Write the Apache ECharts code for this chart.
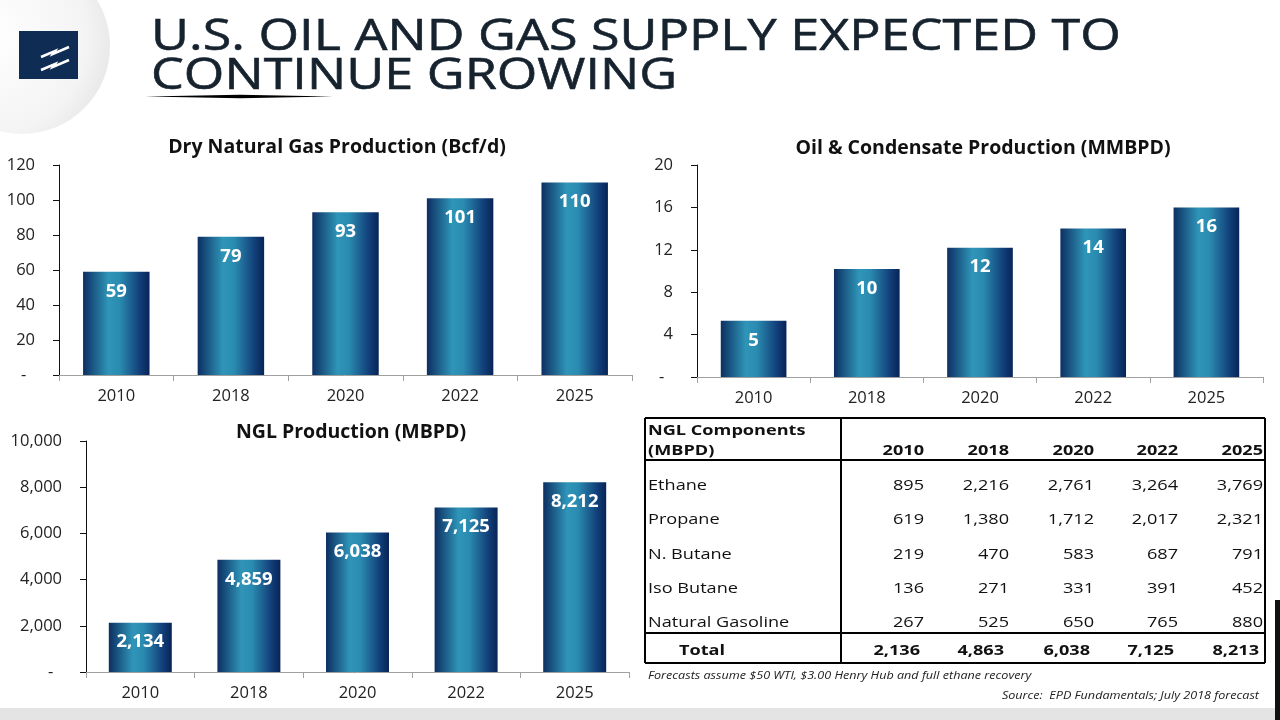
<!DOCTYPE html>
<html>
<head>
<meta charset="utf-8">
<script src="https://cdn.jsdelivr.net/npm/echarts@6/dist/echarts.min.js"></script>
<style>
html,body{margin:0;padding:0;background:#fff;}
#chart{width:1280px;height:720px;}
</style>
</head>
<body>
<div id="chart"></div>
<script>
// ---------- data ----------
const years = ['2010', '2018', '2020', '2022', '2025'];
const gasValues = [59, 79, 93, 101, 110];
const oilValues = [5.3, 10.2, 12.2, 14.0, 16.0];
const nglValues = [2134, 4859, 6038, 7125, 8212];

const gasTitle = 'Dry Natural Gas Production (Bcf/d)';
const oilTitle = 'Oil & Condensate Production (MMBPD)';
const nglTitle = 'NGL Production (MBPD)';
const mainTitle1 = 'U.S. OIL AND GAS SUPPLY EXPECTED TO';
const mainTitle2 = 'CONTINUE GROWING';

const tableHeader1 = 'NGL Components';
const tableHeader2 = '(MBPD)';
const tableYears = ['2010', '2018', '2020', '2022', '2025'];
const componentNames = ['Ethane', 'Propane', 'N. Butane', 'Iso Butane', 'Natural Gasoline'];
const ethane = [895, 2216, 2761, 3264, 3769];
const propane = [619, 1380, 1712, 2017, 2321];
const nButane = [219, 470, 583, 687, 791];
const isoButane = [136, 271, 331, 391, 452];
const naturalGasoline = [267, 525, 650, 765, 880];
const totalLabel = 'Total';
const totals = [2136, 4863, 6038, 7125, 8213];
const footnote = 'Forecasts assume $50 WTI, $3.00 Henry Hub and full ethane recovery';
const sourceNote = 'Source:  EPD Fundamentals; July 2018 forecast';

// ---------- styles ----------
const FONT = '"Open Sans", "Liberation Sans", sans-serif';
const fmt = v => Number(v).toLocaleString('en-US');
const barGradient = new echarts.graphic.LinearGradient(0, 0, 1, 0, [
  { offset: 0, color: '#0d2f62' },
  { offset: 0.38, color: '#2f95b8' },
  { offset: 0.55, color: '#2a8bb0' },
  { offset: 0.85, color: '#12407a' },
  { offset: 1, color: '#072457' }
]);

function xAxisCfg(gridIndex) {
  return {
    type: 'category', gridIndex, data: years,
    axisLine: { show: true, lineStyle: { color: '#a0a0a0', width: 1 } },
    axisTick: { show: true, alignWithLabel: false, length: 6, lineStyle: { color: '#a0a0a0' } },
    axisLabel: { fontFamily: FONT, fontSize: 16.5, color: '#222', margin: 13 }
  };
}
function yAxisCfg(gridIndex, max, interval, useComma) {
  return {
    type: 'value', gridIndex, min: 0, max, interval,
    axisLine: { show: true, lineStyle: { color: '#111', width: 1 } },
    axisTick: { show: true, length: 6, lineStyle: { color: '#111' } },
    splitLine: { show: false },
    axisLabel: {
      fontFamily: FONT, fontSize: 16.5, color: '#222', margin: 24,
      formatter: v => v === 0 ? '-  ' : (useComma ? fmt(v) : String(v))
    }
  };
}
function barSeries(idx, data, fmtLabel) {
  return {
    type: 'bar', xAxisIndex: idx, yAxisIndex: idx, data,
    barWidth: '58%',
    itemStyle: { color: barGradient },
    label: {
      show: true, position: 'insideTop', distance: 10,
      fontFamily: FONT, fontSize: 18.5, fontWeight: 'bold', color: '#fff',
      formatter: p => fmtLabel(p.value)
    }
  };
}

// ---------- graphic (slide decoration, title, table) ----------
const graphics = [];
// logo backdrop
graphics.push({
  type: 'circle', shape: { cx: 22, cy: 46, r: 88 }, z: -10,
  style: { fill: new echarts.graphic.RadialGradient(0.3, 0.45, 0.75, [
    { offset: 0, color: '#ffffff' }, { offset: 0.75, color: '#f4f4f4' }, { offset: 1, color: '#e6e6e6' }
  ]) }
});
graphics.push({ type: 'rect', shape: { x: 19, y: 31, width: 59, height: 48 }, style: { fill: '#0e2c54' } });
graphics.push({ type: 'polyline', shape: { points: [[41, 57], [55, 51], [53, 54], [69, 47]] }, style: { stroke: '#fff', lineWidth: 2.5, fill: null } });
graphics.push({ type: 'polyline', shape: { points: [[41, 70], [55, 64], [53, 67], [69, 60]] }, style: { stroke: '#fff', lineWidth: 2.5, fill: null } });
// main title
const titleTextStyle = { fontFamily: FONT, fontSize: 44, fill: '#16232f', stroke: '#16232f', lineWidth: 0.6, align: 'left', verticalAlign: 'middle' };
graphics.push({ type: 'text', x: 151, y: 37, scaleX: 1.185, style: Object.assign({ text: mainTitle1 }, titleTextStyle) });
graphics.push({ type: 'text', x: 151, y: 76, scaleX: 1.185, style: Object.assign({ text: mainTitle2 }, titleTextStyle) });
graphics.push({ type: 'polygon', shape: { points: [[145, 96.5], [240, 94.8], [333, 96.5], [240, 98.2]] }, style: { fill: '#000' } });

// table
const T = { left: 645, right: 1265, top: 418, bottom: 663, headSep: 460, totSep: 633, vline: 841 };
const lineStyle = { stroke: '#000', lineWidth: 2 };
[[T.left, T.top, T.right, T.top], [T.left, T.headSep, T.right, T.headSep], [T.left, T.totSep, T.right, T.totSep],
 [T.left, T.bottom, T.right, T.bottom], [T.left, T.top, T.left, T.bottom], [T.right, T.top, T.right, T.bottom],
 [T.vline, T.top, T.vline, T.bottom]].forEach(l => {
  graphics.push({ type: 'line', shape: { x1: l[0], y1: l[1], x2: l[2], y2: l[3] }, style: lineStyle });
});
const SX = 1.25;
function tText(text, x, y, align, bold, size) {
  graphics.push({ type: 'text', x, y, scaleX: SX,
    style: { text, fontFamily: FONT, fontSize: size || 14.5, fontWeight: bold ? 'bold' : 'normal',
      fill: '#111', align, verticalAlign: 'middle' } });
}
const colRight = [924, 1009, 1094, 1178, 1263];
const colRightBold = [920, 1004, 1090, 1174, 1259];
const rowY = [486, 520, 555, 589, 623];
tText(tableHeader1, 648, 431, 'left', true);
tText(tableHeader2, 648, 451, 'left', true);
tableYears.forEach((y, i) => tText(y, colRight[i], 451, 'right', true));
const rows = [ethane, propane, nButane, isoButane, naturalGasoline];
componentNames.forEach((name, r) => {
  tText(name, 648, rowY[r], 'left', false);
  rows[r].forEach((v, i) => tText(fmt(v), colRight[i], rowY[r], 'right', false));
});
tText(totalLabel, 679, 651, 'left', true);
totals.forEach((v, i) => tText(fmt(v), colRightBold[i], 651, 'right', true));
graphics.push({ type: 'text', x: 648, y: 676, scaleX: 1.2,
  style: { text: footnote, fontFamily: FONT, fontSize: 10.5, fontStyle: 'italic', fill: '#222', align: 'left', verticalAlign: 'middle' } });
graphics.push({ type: 'text', x: 1259, y: 696, scaleX: 1.2,
  style: { text: sourceNote, fontFamily: FONT, fontSize: 10.5, fontStyle: 'italic', fill: '#222', align: 'right', verticalAlign: 'middle' } });
// bottom band and right edge
graphics.push({ type: 'rect', shape: { x: 0, y: 708, width: 1280, height: 12 }, style: { fill: '#e4e4e4' }, z: -5 });
graphics.push({ type: 'rect', shape: { x: 1275, y: 600, width: 5, height: 120 }, style: { fill: '#111' } });

// ---------- chart ----------
const chart = echarts.init(document.getElementById('chart'));
const titleStyle = { fontFamily: FONT, fontSize: 19.5, fontWeight: 'bold', color: '#111' };
chart.setOption({
  backgroundColor: '#ffffff',
  animation: false,
  title: [
    { text: gasTitle, left: 332, top: 142, textAlign: 'center', textVerticalAlign: 'middle', textStyle: titleStyle },
    { text: oilTitle, left: 978, top: 143, textAlign: 'center', textVerticalAlign: 'middle', textStyle: titleStyle },
    { text: nglTitle, left: 346, top: 427, textAlign: 'center', textVerticalAlign: 'middle', textStyle: titleStyle }
  ],
  grid: [
    { left: 59, top: 165, width: 573, height: 210 },
    { left: 697, top: 165, width: 566, height: 212 },
    { left: 86, top: 441, width: 543, height: 231 }
  ],
  xAxis: [xAxisCfg(0), xAxisCfg(1), xAxisCfg(2)],
  yAxis: [yAxisCfg(0, 120, 20, false), yAxisCfg(1, 20, 4, false), yAxisCfg(2, 10000, 2000, true)],
  series: [
    barSeries(0, gasValues, v => String(Math.round(v))),
    barSeries(1, oilValues, v => String(Math.round(v))),
    barSeries(2, nglValues, v => fmt(v))
  ],
  graphic: graphics
});
</script>
</body>
</html>
